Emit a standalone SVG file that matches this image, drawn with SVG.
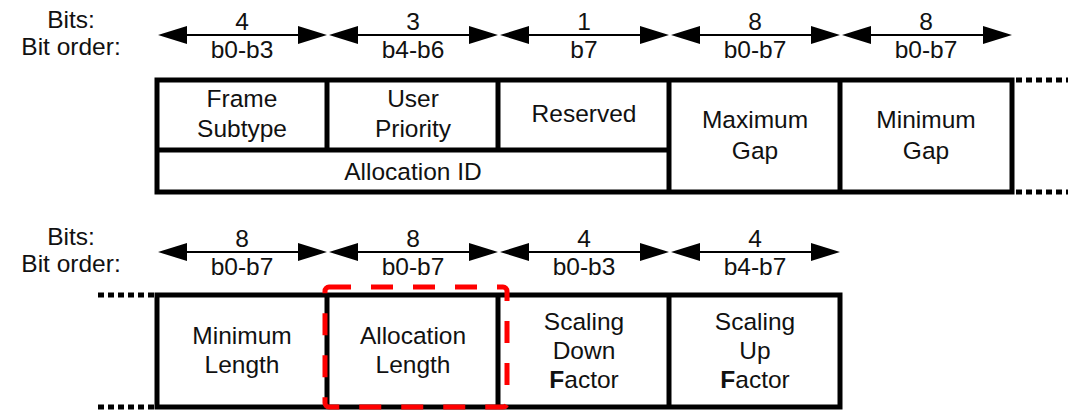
<svg xmlns="http://www.w3.org/2000/svg" width="1079" height="411" viewBox="0 0 1079 411">
<defs>
<style>
text{font-family:"Liberation Sans",Arial,sans-serif;font-size:24.5px;fill:#111;text-anchor:middle}
.box{fill:none;stroke:#000;stroke-width:5}
.ln{stroke:#000;stroke-width:5;fill:none}
.dot{stroke:#000;stroke-width:5;stroke-dasharray:6 4;fill:none}
.arr{stroke:#000;stroke-width:2;fill:none}
.hd{fill:#000}
.hl{fill:none;stroke:#ff0000;stroke-width:5;stroke-dasharray:22 20}
</style>
</defs>
<rect width="1079" height="411" fill="#fff"/>
<g id="labels-top">
<text x="71" y="28">Bits:</text>
<text x="71" y="55">Bit order:</text>
</g>
<g id="labels-bottom">
<text x="71" y="245">Bits:</text>
<text x="71" y="272">Bit order:</text>
</g>
<g id="connectors">
<g id="arrows-top">
<line class="arr" x1="170" y1="35" x2="315" y2="35"/><polygon class="hd" points="158,35 187,26 187,44"/><polygon class="hd" points="327,35 298,26 298,44"/>
<line class="arr" x1="340" y1="35" x2="486" y2="35"/><polygon class="hd" points="329,35 358,26 358,44"/><polygon class="hd" points="498,35 469,26 469,44"/>
<line class="arr" x1="511" y1="35" x2="657" y2="35"/><polygon class="hd" points="500,35 529,26 529,44"/><polygon class="hd" points="669,35 640,26 640,44"/>
<line class="arr" x1="682" y1="35" x2="828" y2="35"/><polygon class="hd" points="671,35 700,26 700,44"/><polygon class="hd" points="840,35 811,26 811,44"/>
<line class="arr" x1="853" y1="35" x2="1000" y2="35"/><polygon class="hd" points="842,35 871,26 871,44"/><polygon class="hd" points="1012,35 983,26 983,44"/>
</g>
<g id="arrows-bottom">
<line class="arr" x1="170" y1="252" x2="315" y2="252"/><polygon class="hd" points="158,252 187,243 187,261"/><polygon class="hd" points="327,252 298,243 298,261"/>
<line class="arr" x1="340" y1="252" x2="486" y2="252"/><polygon class="hd" points="329,252 358,243 358,261"/><polygon class="hd" points="498,252 469,243 469,261"/>
<line class="arr" x1="511" y1="252" x2="657" y2="252"/><polygon class="hd" points="500,252 529,243 529,261"/><polygon class="hd" points="669,252 640,243 640,261"/>
<line class="arr" x1="682" y1="252" x2="828" y2="252"/><polygon class="hd" points="671,252 700,243 700,261"/><polygon class="hd" points="840,252 811,243 811,261"/>
</g>
<g id="arrow-labels">
<text x="242" y="30">4</text><text x="242" y="58">b0-b3</text>
<text x="413" y="30">3</text><text x="413" y="58">b4-b6</text>
<text x="584" y="30">1</text><text x="584" y="58">b7</text>
<text x="755" y="30">8</text><text x="755" y="58">b0-b7</text>
<text x="926" y="30">8</text><text x="926" y="58">b0-b7</text>
<text x="242" y="247">8</text><text x="242" y="275">b0-b7</text>
<text x="413" y="247">8</text><text x="413" y="275">b0-b7</text>
<text x="584" y="247">4</text><text x="584" y="275">b0-b3</text>
<text x="755" y="247">4</text><text x="755" y="275">b4-b7</text>
</g>
<g id="continuation">
<line class="dot" x1="1016" y1="80" x2="1068" y2="80"/>
<line class="dot" x1="1016" y1="192" x2="1068" y2="192"/>
<line class="dot" x1="98" y1="295" x2="154" y2="295"/>
<line class="dot" x1="98" y1="407" x2="154" y2="407"/>
</g>
</g>
<g id="frame-top">
<rect class="box" x="157" y="80" width="855" height="112"/>
</g>
<g id="frame-subtype">
<line class="ln" x1="327" y1="80" x2="327" y2="150"/>
<text x="242" y="107">Frame</text><text x="242" y="137">Subtype</text>
</g>
<g id="user-priority">
<line class="ln" x1="498" y1="80" x2="498" y2="150"/>
<text x="413" y="107">User</text><text x="413" y="137">Priority</text>
</g>
<g id="reserved">
<text x="584" y="122">Reserved</text>
</g>
<g id="allocation-id">
<line class="ln" x1="157" y1="150" x2="669" y2="150"/>
<line class="ln" x1="669" y1="80" x2="669" y2="192"/>
<text x="413" y="180">Allocation ID</text>
</g>
<g id="maximum-gap">
<line class="ln" x1="840" y1="80" x2="840" y2="192"/>
<text x="755" y="128">Maximum</text><text x="755" y="159">Gap</text>
</g>
<g id="minimum-gap">
<text x="926" y="128">Minimum</text><text x="926" y="159">Gap</text>
</g>
<g id="frame-bottom">
<rect class="box" x="157" y="295" width="683" height="112"/>
</g>
<g id="minimum-length">
<line class="ln" x1="327" y1="295" x2="327" y2="407"/>
<text x="242" y="344">Minimum</text><text x="242" y="373">Length</text>
</g>
<g id="allocation-length">
<line class="ln" x1="498" y1="295" x2="498" y2="407"/>
<text x="413" y="344">Allocation</text><text x="413" y="373">Length</text>
</g>
<g id="scaling-down-factor">
<line class="ln" x1="669" y1="295" x2="669" y2="407"/>
<text x="584" y="330">Scaling</text><text x="584" y="359">Down</text><text x="584" y="388"><tspan font-weight="bold">F</tspan>actor</text>
</g>
<g id="scaling-up-factor">
<text x="755" y="330">Scaling</text><text x="755" y="359">Up</text><text x="755" y="388"><tspan font-weight="bold">F</tspan>actor</text>
</g>
<g id="highlight">
<rect class="hl" x="325" y="287" width="182" height="120" rx="4"/>
</g>
</svg>
